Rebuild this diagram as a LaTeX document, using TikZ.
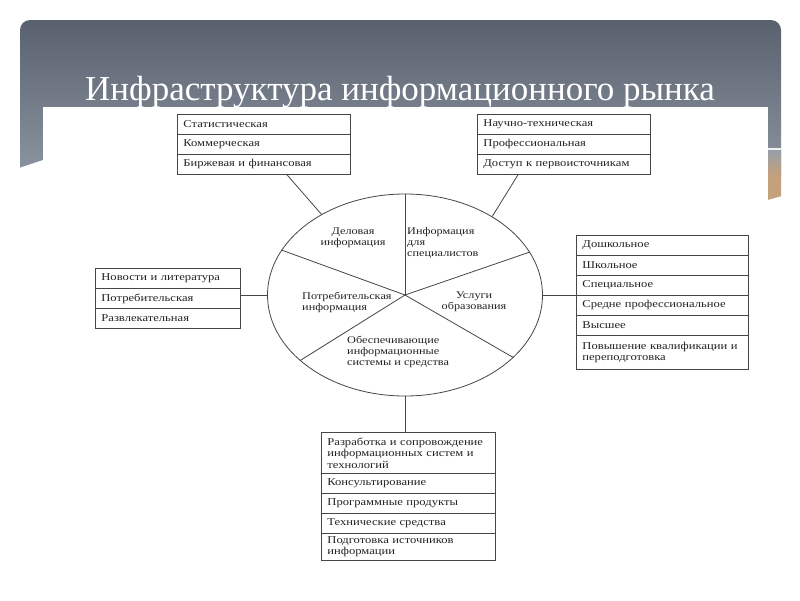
\documentclass[tikz,border=0pt]{standalone}
\usepackage{fontspec}
\setmainfont{Liberation Serif}
\newfontfamily\tf[FakeStretch=1.2]{Liberation Serif}
\newfontfamily\ttl{Liberation Serif}
\usetikzlibrary{shapes.geometric,calc}
\definecolor{panelTop}{RGB}{90,97,110}
\definecolor{panelBot}{RGB}{150,158,170}
\definecolor{tan}{RGB}{196,160,124}
\definecolor{linegray}{RGB}{70,70,70}
\definecolor{txtgray}{RGB}{35,35,35}
\tikzset{
  cell/.style={draw=linegray, line width=0.8pt, anchor=north west, inner xsep=6pt, inner ysep=0pt,
    align=left, text=txtgray, font={\tf\fontsize{10.5}{11.5}\selectfont}},
  sector/.style={text=txtgray, font={\tf\fontsize{10.2}{11}\selectfont}, inner sep=0pt},
  conn/.style={draw=linegray, line width=0.8pt},
}
\begin{document}
\begin{tikzpicture}[x=1pt,y=1pt]
\useasboundingbox (0,0) rectangle (800,-600);
\fill[white] (0,0) rectangle (800,-600);
% slide panel
\shade[top color=panelTop, bottom color=panelBot, rounded corners=10pt] (20,-20) rectangle (781,-205);
\fill[tan] (768,-150) rectangle (781,-205);
\shade[top color=panelBot, bottom color=tan] (768,-150) rectangle (781,-175);
\fill[white!85!panelBot] (768,-147.5) rectangle (781,-149.5);
\fill[white] (43,-107) rectangle (768,-600);
\fill[white] (19,-168) -- (43,-160) -- (43,-210) -- (19,-210) -- cycle;
\fill[white] (768,-200) -- (782,-196) -- (782,-210) -- (768,-210) -- cycle;
\node[text=white, font={\ttl\fontsize{35}{40}\selectfont}, anchor=base] (title) at (400,-100) {Инфраструктура информационного рынка};

% ellipse
\node[ellipse, draw=linegray, line width=0.8pt, minimum width=275pt, minimum height=202pt, inner sep=0pt] (E) at (405,-295) {};
\draw[conn] (E.center) -- (E.90);
\draw[conn] (E.center) -- (E.160);
\draw[conn] (E.center) -- (E.19);
\draw[conn] (E.center) -- (E.212);
\draw[conn] (E.center) -- (E.330);

\node[sector, align=center] (s1) at (353,-238) {Деловая\\информация};
\node[sector, align=left, anchor=west] (s2) at (407,-243) {Информация\\для\\специалистов};
\node[sector, align=left, anchor=west] (s3) at (302,-302) {Потребительская\\информация};
\node[sector, align=center] (s4) at (474,-302) {Услуги\\образования};
\node[sector, align=left, anchor=west] (s5) at (347,-352) {Обеспечивающие\\информационные\\системы и средства};

% top-left table
\node[cell, text width=161pt, minimum height=20pt] (a1) at (177,-114) {Статистическая};
\node[cell, text width=161pt, minimum height=20pt] (a2) at (177,-134) {Коммерческая};
\node[cell, text width=161pt, minimum height=20pt] (a3) at (177,-154) {Биржевая и финансовая};
% top-right table
\node[cell, text width=161pt, minimum height=20pt] (b1) at (477,-114) {Научно-техническая};
\node[cell, text width=161pt, minimum height=20pt] (b2) at (477,-134) {Профессиональная};
\node[cell, text width=161pt, minimum height=20pt] (b3) at (477,-154) {Доступ к первоисточникам};
% left table
\node[cell, text width=133pt, minimum height=20pt] (c1) at (95,-268) {Новости и литература};
\node[cell, text width=133pt, minimum height=20pt] (c2) at (95,-288) {Потребительская};
\node[cell, text width=133pt, minimum height=20pt] (c3) at (95,-308) {Развлекательная};
% right table
\node[cell, text width=160pt, minimum height=20pt] (d1) at (576,-235) {Дошкольное};
\node[cell, text width=160pt, minimum height=20pt] (d2) at (576,-255) {Школьное};
\node[cell, text width=160pt, minimum height=20pt] (d3) at (576,-275) {Специальное};
\node[cell, text width=160pt, minimum height=20pt] (d4) at (576,-295) {Средне профессиональное};
\node[cell, text width=160pt, minimum height=20pt] (d5) at (576,-315) {Высшее};
\node[cell, text width=160pt, minimum height=34pt] (d6) at (576,-335) {Повышение квалификации и\\переподготовка};
% bottom table
\node[cell, text width=162pt, minimum height=41pt] (e1) at (321,-432) {Разработка и сопровождение\\информационных систем и\\технологий};
\node[cell, text width=162pt, minimum height=20pt] (e2) at (321,-473) {Консультирование};
\node[cell, text width=162pt, minimum height=20pt] (e3) at (321,-493) {Программные продукты};
\node[cell, text width=162pt, minimum height=20pt] (e4) at (321,-513) {Технические средства};
\node[cell, text width=162pt, minimum height=27pt] (e5) at (321,-533) {Подготовка источников\\информации};

% connectors
\coordinate (ta) at ($(a3.south west)+(110,0)$);
\coordinate (tb) at ($(b3.south west)+(41,0)$);
\draw[conn] (ta) -- (E.136);
\draw[conn] (tb) -- (E.42);
\draw[conn] (E.west) -- (E.west -| c2.east);
\draw[conn] (E.east) -- (E.east -| d4.west);
\draw[conn] (E.south) -- (E.south |- e1.north);
\end{tikzpicture}
\end{document}
